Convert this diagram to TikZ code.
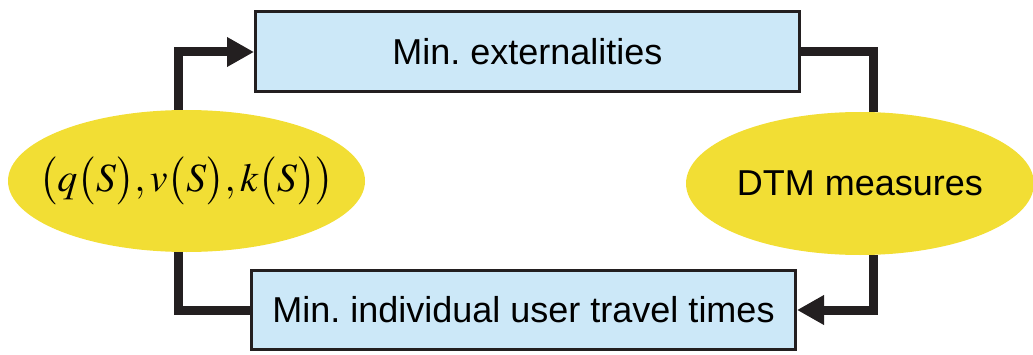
\documentclass[tikz,border=0pt]{standalone}
\usepackage{mathptmx}
\usepackage{fontspec}
\setmainfont{Liberation Sans}
\usetikzlibrary{arrows.meta,shapes.geometric}
\definecolor{boxblue}{RGB}{204,232,248}
\definecolor{ellyellow}{RGB}{242,222,52}
\definecolor{linedark}{RGB}{35,31,32}
\tikzset{
  x=1pt, y=1pt,
  procbox/.style={draw=linedark, line width=3pt, fill=boxblue, minimum width=544pt, minimum height=80pt, inner sep=0pt, font=\fontsize{36}{40}\selectfont},
  ell/.style={fill=ellyellow, ellipse, inner sep=0pt, font=\fontsize{36}{40}\selectfont},
  conn/.style={draw=linedark, line width=9pt},
  connarrow/.style={conn, -{Triangle[length=27pt, width=28pt]}}
}
\begin{document}
\begin{tikzpicture}
\useasboundingbox (0,0) rectangle (1033,354);
\node[procbox] (T) at (527.5,302) {Min.\ externalities};
\node[procbox, minimum height=79pt] (B) at (523.5,44) {Min.\ individual user travel times};
\node[ell, minimum width=357pt, minimum height=142pt, inner xsep=-30pt, font=\fontsize{40}{44}\selectfont] (L) at (186.5,173) {$\bigl(q\bigl(S\bigr),v\bigl(S\bigr),k\bigl(S\bigr)\bigr)$};
\node[ell, minimum width=346pt, minimum height=143pt] (R) at (860,170.5) {DTM measures};
\coordinate (xl) at (178.5,0);
\coordinate (xr) at (873,0);
\draw[connarrow] (L.north -| xl) |- (T.west);
\draw[conn] (L.south -| xl) |- (B.west);
\draw[conn] (T.east) -| (R.north -| xr);
\draw[connarrow] (R.south -| xr) |- (B.east);
\end{tikzpicture}
\end{document}
